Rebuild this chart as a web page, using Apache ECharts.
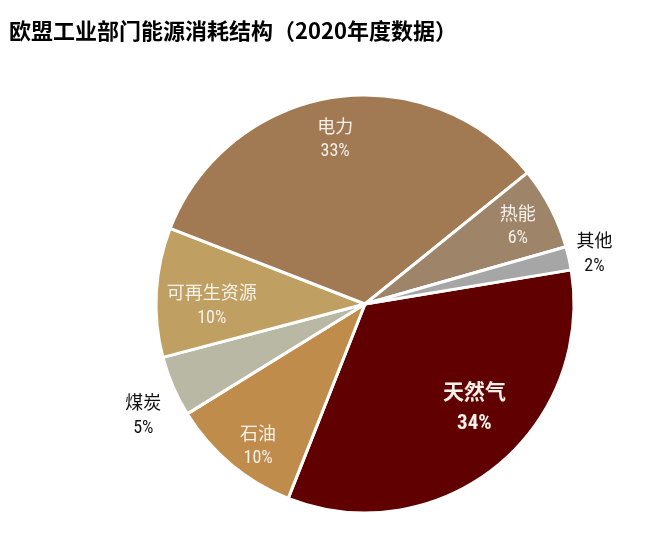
<!DOCTYPE html>
<html><head><meta charset="utf-8">
<script src="https://cdn.jsdelivr.net/npm/echarts@6/dist/echarts.min.js"></script>
<style>html,body{margin:0;padding:0;background:#fff}#c{width:648px;height:536px}</style>
</head><body><div id="c"></div>
<script>
const titleText = '欧盟工业部门能源消耗结构（2020年度数据）';
const categories = ['天然气', '石油', '煤炭', '可再生资源', '电力', '热能', '其他'];
const values = [33.6, 10.2, 4.7, 10.0, 33.3, 6.4, 1.8];

const sliceColors = ['#610000', '#BF8C4C', '#B9B8A5', '#BFA062', '#A17A53', '#9E8468', '#A6A6A6'];
// label placement: ring and small nudge per category
const labelRing = { '天然气': 'mid', '石油': 'outer', '煤炭': 'out', '可再生资源': 'mid', '电力': 'outer', '热能': 'outer', '其他': 'out' };
const labelNudge = { '天然气': [13, -16], '石油': [5, 8], '煤炭': [0, 16], '可再生资源': [0, 10], '电力': [-3, 7], '热能': [-2, 2], '其他': [-6, 2] };

const C = [365, 304], R = 209;
const FONT = '"Noto Sans CJK SC", "Noto Sans", sans-serif';
const NUMFONT = '"Liberation Sans Narrow", "Arial Narrow", "Roboto Condensed", "Noto Sans CJK SC", sans-serif';

function baseData() {
  return categories.map((n, i) => ({ name: n, value: values[i] }));
}

function hiddenRing(ring, radius, color) {
  return {
    type: 'pie', center: C, radius: radius, startAngle: 9.4, clockwise: true,
    silent: true, percentPrecision: 0, avoidLabelOverlap: false,
    itemStyle: { color: 'transparent', borderWidth: 0 },
    labelLine: { show: false },
    emphasis: { disabled: true },
    data: baseData().map(d => {
      const big = d.name === '天然气';
      const fs = big ? 21 : 18, lh = big ? 33 : 26, fw = big ? 'bold' : 'normal';
      return {
        name: d.name, value: d.value,
        label: {
          show: labelRing[d.name] === ring,
          position: 'inside',
          formatter: '{n|{b}}\n{p|{d}%}',
          offset: labelNudge[d.name],
          color: color,
          rich: {
            n: { color: color, fontFamily: FONT, fontSize: fs, lineHeight: lh, fontWeight: fw },
            p: { color: color, fontFamily: NUMFONT, fontSize: big ? 21 : 18, lineHeight: lh, fontWeight: fw }
          }
        }
      };
    })
  };
}

const chart = echarts.init(document.getElementById('c'), null, { renderer: 'canvas' });
chart.setOption({
  animation: false,
  title: {
    text: titleText, left: 4, top: 15,
    textStyle: { fontFamily: FONT, fontSize: 22, fontWeight: 'bold', color: '#000' }
  },
  series: [
    {
      type: 'pie', center: C, radius: R, startAngle: 9.4, clockwise: true,
      percentPrecision: 0,
      label: { show: false }, labelLine: { show: false },
      itemStyle: { borderColor: '#fff', borderWidth: 3 },
      data: baseData().map((d, i) => ({ name: d.name, value: d.value, itemStyle: { color: sliceColors[i] } }))
    },
    hiddenRing('outer', [R * 0.64, R], '#F4F0EA'),
    hiddenRing('mid', [R * 0.44, R], '#F4F0EA'),
    hiddenRing('out', [R, R * 1.28], '#111')
  ]
});
</script></body></html>
